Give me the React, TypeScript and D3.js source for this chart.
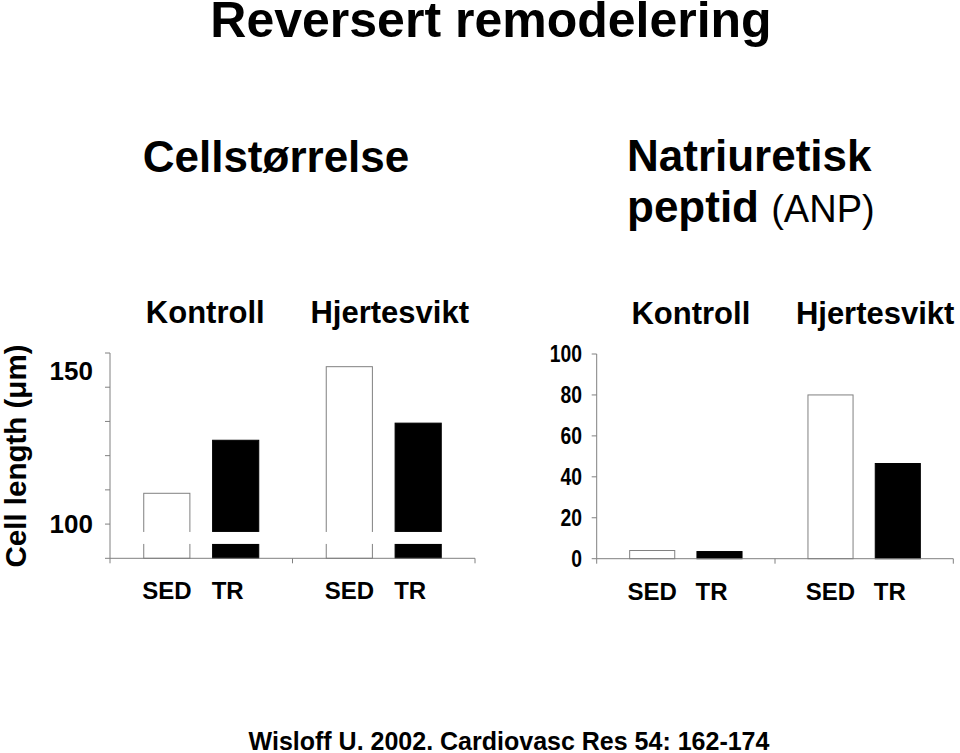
import React from "react";
import * as d3 from "d3";

// ---- Data ----
const groups = ["Kontroll", "Hjertesvikt"];
const treatments = ["SED", "TR"];

// Cell length (µm), axis broken below 100
const cellSED = [109, 146];
const cellTR = [124.5, 129.5];
const cellDomain = [90, 150];
const cellTicks = [90, 100, 110, 120, 130, 140, 150];
const cellTickLabels = [100, 150];
const cellBreak = [94.2, 97.7];

// ANP
const anpSED = [4, 80];
const anpTR = [3.5, 46.5];
const anpDomain = [0, 100];
const anpTicks = [0, 20, 40, 60, 80, 100];

const FONT = "'Liberation Sans', Arial, Helvetica, sans-serif";
const AXIS = "#808080";

type PanelProps = {
  x0: number;
  x1: number;
  yBottom: number;
  yTop: number;
  domain: number[];
  ticks: number[];
  sed: number[];
  tr: number[];
  brk?: number[];
  headShift: number[];
};

function Panel({ x0, x1, yBottom, yTop, domain, ticks, sed, tr, brk, headShift }: PanelProps) {
  const y = d3.scaleLinear().domain(domain).range([yBottom, yTop]);
  const gx = d3.scaleBand<string>().domain(groups).range([x0, x1]).padding(0);
  const ix = d3
    .scaleBand<string>()
    .domain(treatments)
    .range([0, gx.bandwidth()])
    .paddingInner(0.33)
    .paddingOuter(0.49);
  const base = domain[0];
  const bars = groups.flatMap((g, gi) => [
    { g, t: "SED", v: sed[gi] },
    { g, t: "TR", v: tr[gi] },
  ]);
  const xTicks = [x0, ...groups.map((g) => (gx(g) as number) + gx.bandwidth())];
  return (
    <g>
      {bars.map((b, i) => {
        const bx = (gx(b.g) as number) + (ix(b.t) as number);
        const w = ix.bandwidth();
        const top = y(b.v);
        const isSed = b.t === "SED";
        return (
          <g key={i}>
            <rect
              x={bx}
              y={top}
              width={w}
              height={y(base) - top}
              fill={isSed ? "#ffffff" : "#000000"}
              stroke={isSed ? AXIS : "#000"}
              strokeWidth={1}
            />
            {brk && (
              <rect
                x={bx - 1.5}
                y={y(brk[1])}
                width={w + 3}
                height={y(brk[0]) - y(brk[1])}
                fill="#ffffff"
              />
            )}
          </g>
        );
      })}
      {/* y axis */}
      <line x1={x0} x2={x0} y1={yTop} y2={yBottom} stroke={AXIS} strokeWidth={1} />
      {ticks.map((t) => (
        <line key={t} x1={x0 - 5} x2={x0} y1={y(t)} y2={y(t)} stroke={AXIS} strokeWidth={1} />
      ))}
      {/* x axis */}
      <line x1={x0} x2={x1} y1={yBottom} y2={yBottom} stroke={AXIS} strokeWidth={1} />
      {xTicks.map((t, i) => (
        <line key={i} x1={t} x2={t} y1={yBottom} y2={yBottom + 5} stroke={AXIS} strokeWidth={1} />
      ))}
      {/* category labels */}
      {bars.map((b, i) => {
        const cx = (gx(b.g) as number) + (ix(b.t) as number) + ix.bandwidth() / 2;
        return (
          <text
            key={"l" + i}
            x={b.t === "TR" ? cx - 8 : cx}
            y={yBottom + 41}
            textAnchor="middle"
            fontFamily={FONT}
            fontWeight="bold"
            fontSize={24}
          >
            {b.t}
          </text>
        );
      })}
      {/* group headings */}
      {groups.map((g, gi) => (
        <text
          key={g}
          x={(gx(g) as number) + gx.bandwidth() / 2 + headShift[gi]}
          y={yTop - 30}
          textAnchor="middle"
          fontFamily={FONT}
          fontWeight="bold"
          fontSize={31}
        >
          {g}
        </text>
      ))}
    </g>
  );
}

export default function App() {
  const W = 960;
  const H = 753;
  const leftY = d3.scaleLinear().domain(cellDomain).range([558.3, 353]);
  const rightY = d3.scaleLinear().domain(anpDomain).range([558.7, 354]);
  return (
    <svg width={W} height={H} style={{ position: "absolute", left: 0, top: 0, background: "#fff" }}>
      <rect x={0} y={0} width={W} height={H} fill="#fff" />
      <text x={491} y={37} textAnchor="middle" fontFamily={FONT} fontWeight="bold" fontSize={50}>
        Reversert remodelering
      </text>
      <text x={276} y={172} textAnchor="middle" fontFamily={FONT} fontWeight="bold" fontSize={44}>
        Cellstørrelse
      </text>
      <text x={627} y={171} fontFamily={FONT} fontWeight="bold" fontSize={44}>
        Natriuretisk
      </text>
      <text x={627} y={222} fontFamily={FONT} fontWeight="bold" fontSize={44}>
        peptid{" "}
        <tspan fontWeight="normal" fontSize={38}>
          (ANP)
        </tspan>
      </text>

      {/* Left panel */}
      <text
        transform="translate(25.5,456) rotate(-90)"
        textAnchor="middle"
        fontFamily={FONT}
        fontWeight="bold"
        fontSize={29.5}
      >
        Cell length (μm)
      </text>
      {cellTickLabels.map((t) => (
        <text
          key={t}
          x={93}
          y={leftY(t) + (t === 150 ? 18 : 0)}
          dy="0.35em"
          textAnchor="end"
          fontFamily={FONT}
          fontWeight="bold"
          fontSize={26}
        >
          {t}
        </text>
      ))}
      <Panel
        x0={110}
        x1={475}
        yBottom={558.3}
        yTop={353}
        domain={cellDomain}
        ticks={cellTicks}
        sed={cellSED}
        tr={cellTR}
        brk={cellBreak}
        headShift={[4, 6]}
      />

      {/* Right panel */}
      {anpTicks.map((t) => (
        <text
          key={t}
          transform={`translate(582,${rightY(t)}) scale(0.84,1)`}
          dy="0.35em"
          textAnchor="end"
          fontFamily={FONT}
          fontWeight="bold"
          fontSize={23}
        >
          {t}
        </text>
      ))}
      <Panel
        x0={596.7}
        x1={953.3}
        yBottom={558.7}
        yTop={354}
        domain={anpDomain}
        ticks={anpTicks}
        sed={anpSED}
        tr={anpTR}
        headShift={[5, 11]}
      />

      <text x={509} y={750} textAnchor="middle" fontFamily={FONT} fontWeight="bold" fontSize={25}>
        Wisloff U. 2002. Cardiovasc Res 54: 162-174
      </text>
    </svg>
  );
}
